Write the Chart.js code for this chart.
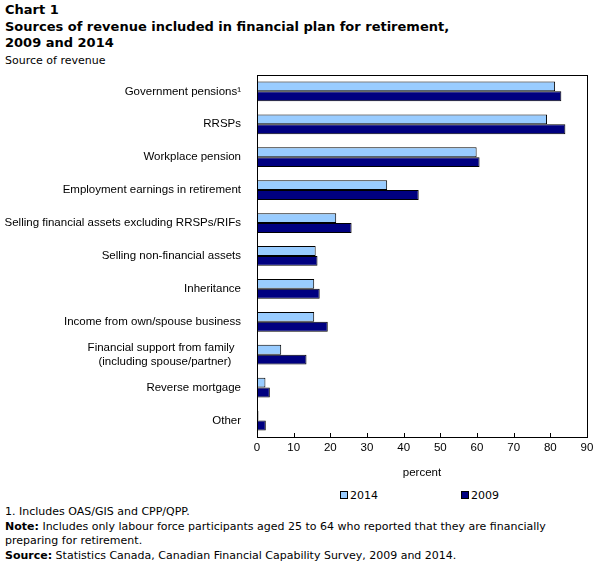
<!DOCTYPE html>
<html>
<head>
<meta charset="utf-8">
<script src="https://cdn.jsdelivr.net/npm/chart.js@4.4.0/dist/chart.umd.min.js"></script>
<style>
  body { margin: 0; background: #fff; font-family: "DejaVu Sans", Verdana, sans-serif; color: #000; }
  #wrap { position: relative; width: 605px; height: 567px; }
  .title { position: absolute; left: 5px; top: 2px; font-weight: bold; font-size: 13px; line-height: 16.5px; }
  .ylab { position: absolute; left: 5px; top: 54px; font-size: 11px; }
  #chartBox { position: absolute; left: 0; top: 52px; width: 605px; height: 428px; }
  .legend { position: absolute; top: 489px; font-size: 11px; }
  .legend i { display: inline-block; width: 6px; height: 6px; border: 1px solid #000; margin-right: 2px; vertical-align: 0px; }
  .notes { position: absolute; left: 5px; top: 505px; font-size: 11px; line-height: 14.5px; }
</style>
</head>
<body>
<div id="wrap">
  <div class="title">Chart 1<br>Sources of revenue included in financial plan for retirement,<br>2009 and 2014</div>
  <div class="ylab">Source of revenue</div>
  <div id="chartBox"><canvas id="barChart"></canvas></div>
  <div class="legend" style="left:340px"><i style="background:#99ccff"></i>2014</div>
  <div class="legend" style="left:461px"><i style="background:#000080"></i>2009</div>
  <div class="notes">
    1. Includes OAS/GIS and CPP/QPP.<br>
    <b>Note:</b> Includes only labour force participants aged 25 to 64 who reported that they are financially<br>
    preparing for retirement.<br>
    <b>Source:</b> Statistics Canada, Canadian Financial Capability Survey, 2009 and 2014.
  </div>
</div>
<script>
document.addEventListener('DOMContentLoaded', () => {
  // categories and values (percent)
  const categories = [
    'Government pensions\u00b9',
    'RRSPs',
    'Workplace pension',
    'Employment earnings in retirement',
    'Selling financial assets excluding RRSPs/RIFs',
    'Selling non-financial assets',
    'Inheritance',
    'Income from own/spouse business',
    ['Financial support from family  ', '(including spouse/partner)   '],
    'Reverse mortgage',
    'Other'
  ];
  const values2014 = [81.3, 79.1, 59.9, 35.5, 21.6, 16.0, 15.6, 15.6, 6.6, 2.3, 0.4];
  const values2009 = [83.0, 84.1, 60.7, 44.1, 25.8, 16.5, 17.1, 19.3, 13.5, 3.5, 2.4];
  const xTicks = [0, 10, 20, 30, 40, 50, 60, 70, 80, 90];

  const labelFont = { family: 'Liberation Sans', size: 11.5 };

  // frame round the plot area plus inward tick marks
  const frame = {
    id: 'frame',
    afterDraw(chart) {
      const { ctx, chartArea: a } = chart;
      const x = chart.scales.x;
      ctx.save();
      ctx.strokeStyle = '#000';
      ctx.lineWidth = 1;
      ctx.strokeRect(Math.round(a.left) + 0.5, Math.round(a.top) + 0.5, Math.round(a.right - a.left), Math.round(a.bottom - a.top));
      ctx.beginPath();
      xTicks.forEach(v => {
        const px = Math.round(x.getPixelForValue(v)) + 0.5;
        ctx.moveTo(px, a.bottom);
        ctx.lineTo(px, a.bottom - 4);
      });
      ctx.stroke();
      ctx.restore();
    }
  };

  const ctx = document.getElementById('barChart');
  new Chart(ctx, {
    type: 'bar',
    data: {
      labels: categories,
      datasets: [{
        label: '2014',
        data: values2014,
        backgroundColor: '#99ccff',
        borderColor: '#000',
        borderWidth: 1,
        barPercentage: 1,
        categoryPercentage: 0.6
      }, {
        label: '2009',
        data: values2009,
        backgroundColor: '#000080',
        borderColor: '#000',
        borderWidth: 1,
        barPercentage: 1,
        categoryPercentage: 0.6
      }]
    },
    options: {
      indexAxis: 'y',
      responsive: true,
      maintainAspectRatio: false,
      animation: false,
      layout: { padding: { top: 5, right: 18, left: 0, bottom: 0 } },
      plugins: { legend: { display: false }, tooltip: { enabled: false } },
      scales: {
        x: {
          min: 0,
          max: 90,
          afterBuildTicks: s => { s.ticks = xTicks.map(v => ({ value: v })); },
          grid: { display: false, drawTicks: false },
          border: { display: false },
          ticks: { color: '#000', font: labelFont, padding: 4 },
          title: { display: true, text: 'percent', color: '#000', font: labelFont, padding: { top: 4, bottom: 0 } },
          afterFit: s => { s.height = 43; }
        },
        y: {
          grid: { display: false, drawTicks: false },
          border: { display: false },
          ticks: { color: '#000', font: labelFont, padding: 16, autoSkip: false },
          afterFit: s => { s.width = 257; }
        }
      }
    },
    plugins: [frame]
  });
});
</script>
</body>
</html>
